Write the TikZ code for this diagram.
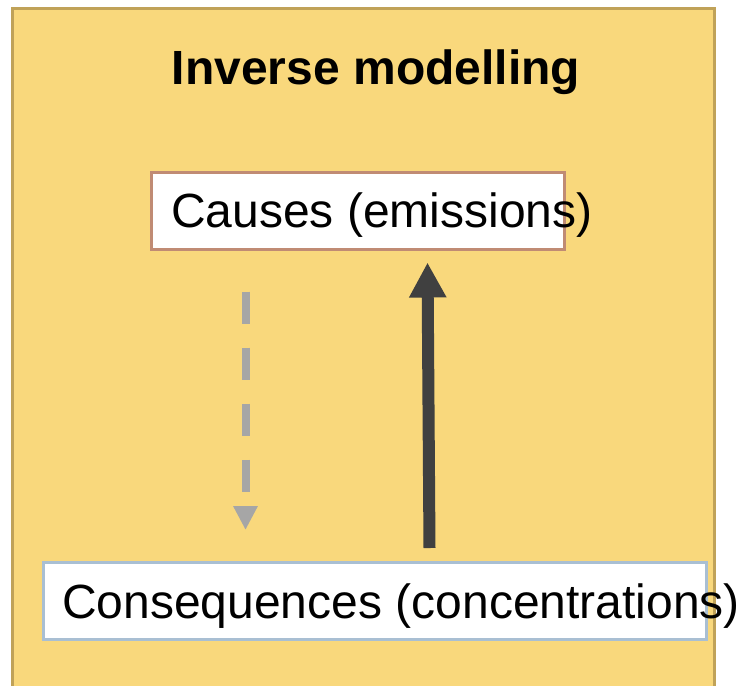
\documentclass[tikz,border=0pt]{standalone}
\usepackage{fontspec}
\setmainfont{Liberation Sans}
\usetikzlibrary{arrows.meta,calc}
\definecolor{panelfill}{HTML}{F9D87C}
\definecolor{panelline}{HTML}{C0A258}
\definecolor{causeline}{HTML}{C08B74}
\definecolor{conseqline}{HTML}{A9BFD3}
\definecolor{dashgrey}{HTML}{A6A6A6}
\definecolor{darkarrow}{HTML}{404040}
\tikzset{
  panel/.style={draw=panelline, fill=panelfill, line width=3pt},
  boxnode/.style={rectangle, fill=white, line width=3pt, inner sep=0pt},
  boxtext/.style={anchor=base west, inner sep=0pt, font=\fontsize{48}{58}\selectfont},
  titletext/.style={anchor=base, inner sep=0pt, font=\fontsize{48}{58}\selectfont\bfseries},
  forwardarrow/.style={draw=dashgrey, line width=8pt, dash pattern=on 32pt off 24pt,
     -{Triangle[width=23pt,length=24pt]}},
  inversearrow/.style={draw=darkarrow, line width=12pt,
     -{Triangle[width=35pt,length=35pt]}}
}
\begin{document}
\begin{tikzpicture}[x=1pt,y=-1pt]
\useasboundingbox (0,0) rectangle (753,686);
\begin{scope}
\clip (0,0) rectangle (753,686);
\draw[panel] (12,8) rectangle (714,700);
\end{scope}
\node[titletext] (title) at (376,84) {Inverse modelling};
\node[boxnode, draw=causeline, minimum width=413pt, minimum height=77pt] (causes) at (357.5,210.5) {};
\node[boxtext] (causestext) at (171,227) {Causes (emissions)};
\node[boxnode, draw=conseqline, minimum width=663pt, minimum height=77pt] (conseq) at (374.5,601) {};
\node[boxtext] (conseqtext) at (62,618) {Consequences (concentrations)};
\coordinate (dstart) at ($(causes.south west)+(96,41)$);
\coordinate (dend) at ($(conseq.north west)+(204,-31)$);
\coordinate (istart) at ($(conseq.north west)+(388,-13)$);
\coordinate (iend) at ($(causes.south west)+(278,12)$);
\draw[forwardarrow] (dstart) -- (dend);
\draw[inversearrow] (istart) -- (iend);
\end{tikzpicture}
\end{document}
